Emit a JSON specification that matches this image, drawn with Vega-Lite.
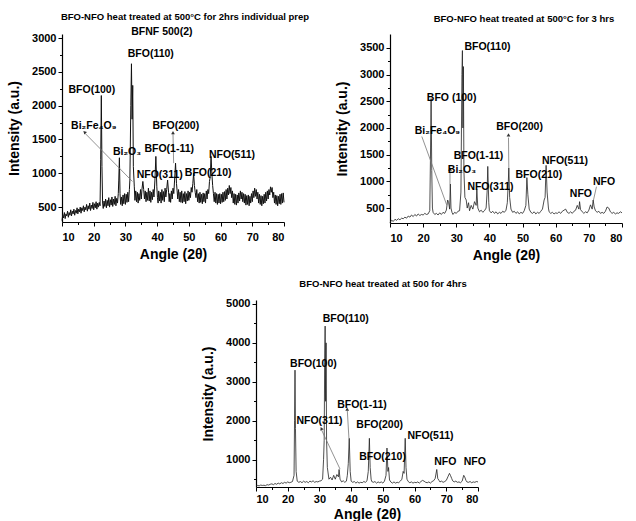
{
  "$schema": "https://vega.github.io/schema/vega-lite/v6.json",
  "background": "white",
  "padding": {"left": 7, "top": 11, "right": 0, "bottom": 0},
  "config": {
    "view": {"stroke": null},
    "font": "Liberation Sans",
    "axis": {"grid": false, "domainColor": "#000", "domainWidth": 1.2, "tickColor": "#000", "tickWidth": 1, "labelFont": "Liberation Sans", "labelFontWeight": "bold", "labelFontSize": 11, "labelColor": "#000", "labelPadding": 2, "labelOverlap": false, "titleFont": "Liberation Sans", "titleFontWeight": "bold", "titleFontSize": 14, "titleColor": "#000", "format": "d"},
    "axisX": {"titlePadding": 5, "labelPadding": 5},
    "axisY": {"titlePadding": 10},
    "title": {"font": "Liberation Sans", "fontWeight": "bold", "fontSize": 9.5, "color": "#000", "anchor": "middle", "frame": "group"},
    "text": {"font": "Liberation Sans", "fontWeight": "bold", "fontSize": 10.5, "color": "#000"}
  },
  "datasets": {
    "p1": [
      {"a":10,"i":300},{"a":10.25,"i":390},{"a":10.5,"i":340},{"a":10.75,"i":420},{"a":11,"i":330},{"a":11.25,"i":400},{"a":11.5,"i":370},{"a":11.75,"i":440},{"a":12,"i":350},{"a":12.25,"i":420},{"a":12.5,"i":380},{"a":12.75,"i":460},{"a":13,"i":370},{"a":13.25,"i":440},{"a":13.5,"i":400},{"a":13.75,"i":470},{"a":14,"i":380},{"a":14.25,"i":450},{"a":14.5,"i":410},{"a":14.75,"i":490},{"a":15,"i":400},{"a":15.25,"i":470},{"a":15.5,"i":430},{"a":15.75,"i":500},{"a":16,"i":410},{"a":16.25,"i":490},{"a":16.5,"i":450},{"a":16.75,"i":520},{"a":17,"i":430},{"a":17.25,"i":500},{"a":17.5,"i":460},{"a":17.75,"i":540},{"a":18,"i":440},{"a":18.25,"i":520},{"a":18.5,"i":470},{"a":18.75,"i":560},{"a":19,"i":450},{"a":19.25,"i":530},{"a":19.5,"i":480},{"a":19.75,"i":570},{"a":20,"i":460},{"a":20.25,"i":550},{"a":20.5,"i":490},{"a":20.75,"i":580},{"a":21,"i":470},{"a":21.25,"i":560},{"a":21.5,"i":500},{"a":21.75,"i":570},{"a":22,"i":520},{"a":22.2,"i":1200},{"a":22.4,"i":2150},{"a":22.6,"i":1100},{"a":22.8,"i":560},{"a":23,"i":480},{"a":23.25,"i":590},{"a":23.5,"i":510},{"a":23.75,"i":620},{"a":24,"i":490},{"a":24.25,"i":600},{"a":24.5,"i":520},{"a":24.75,"i":640},{"a":25,"i":500},{"a":25.25,"i":610},{"a":25.5,"i":530},{"a":25.75,"i":650},{"a":26,"i":510},{"a":26.25,"i":620},{"a":26.5,"i":540},{"a":26.75,"i":660},{"a":27,"i":520},{"a":27.25,"i":630},{"a":27.5,"i":560},{"a":27.75,"i":700},{"a":27.9,"i":900},{"a":28.1,"i":1230},{"a":28.3,"i":700},{"a":28.5,"i":540},{"a":28.75,"i":650},{"a":29,"i":520},{"a":29.25,"i":680},{"a":29.5,"i":550},{"a":29.75,"i":700},{"a":30,"i":540},{"a":30.25,"i":690},{"a":30.5,"i":570},{"a":30.75,"i":720},{"a":31,"i":580},{"a":31.25,"i":760},{"a":31.4,"i":900},{"a":31.7,"i":2000},{"a":31.9,"i":2620},{"a":32.1,"i":1800},{"a":32.3,"i":2300},{"a":32.5,"i":1100},{"a":32.8,"i":800},{"a":33,"i":600},{"a":33.25,"i":740},{"a":33.5,"i":580},{"a":33.75,"i":720},{"a":34,"i":560},{"a":34.25,"i":700},{"a":34.5,"i":600},{"a":34.75,"i":760},{"a":35,"i":620},{"a":35.25,"i":780},{"a":35.5,"i":880},{"a":35.75,"i":760},{"a":36,"i":620},{"a":36.25,"i":740},{"a":36.5,"i":580},{"a":36.75,"i":720},{"a":37,"i":600},{"a":37.25,"i":780},{"a":37.5,"i":590},{"a":37.75,"i":740},{"a":38,"i":570},{"a":38.25,"i":720},{"a":38.5,"i":610},{"a":38.75,"i":760},{"a":39,"i":650},{"a":39.3,"i":900},{"a":39.6,"i":1250},{"a":39.9,"i":800},{"a":40.1,"i":640},{"a":40.3,"i":560},{"a":40.5,"i":740},{"a":40.75,"i":590},{"a":41,"i":720},{"a":41.25,"i":560},{"a":41.5,"i":760},{"a":41.75,"i":600},{"a":42,"i":730},{"a":42.25,"i":580},{"a":42.5,"i":780},{"a":42.75,"i":650},{"a":43,"i":760},{"a":43.3,"i":900},{"a":43.6,"i":720},{"a":43.8,"i":580},{"a":44,"i":700},{"a":44.25,"i":570},{"a":44.5,"i":740},{"a":44.75,"i":620},{"a":45,"i":780},{"a":45.25,"i":700},{"a":45.5,"i":900},{"a":45.8,"i":1150},{"a":46.1,"i":850},{"a":46.3,"i":740},{"a":46.5,"i":620},{"a":46.75,"i":760},{"a":47,"i":580},{"a":47.25,"i":720},{"a":47.5,"i":570},{"a":47.75,"i":740},{"a":48,"i":560},{"a":48.25,"i":700},{"a":48.5,"i":580},{"a":48.75,"i":730},{"a":49,"i":550},{"a":49.25,"i":700},{"a":49.5,"i":590},{"a":49.75,"i":740},{"a":50,"i":600},{"a":50.25,"i":720},{"a":50.5,"i":640},{"a":50.75,"i":790},{"a":51,"i":720},{"a":51.25,"i":850},{"a":51.5,"i":1000},{"a":51.75,"i":820},{"a":52,"i":720},{"a":52.25,"i":640},{"a":52.5,"i":760},{"a":52.75,"i":580},{"a":53,"i":700},{"a":53.25,"i":560},{"a":53.5,"i":720},{"a":53.75,"i":570},{"a":54,"i":690},{"a":54.25,"i":550},{"a":54.5,"i":710},{"a":54.75,"i":580},{"a":55,"i":700},{"a":55.25,"i":560},{"a":55.5,"i":740},{"a":55.75,"i":620},{"a":56,"i":760},{"a":56.25,"i":700},{"a":56.5,"i":880},{"a":56.75,"i":950},{"a":57,"i":1250},{"a":57.25,"i":1000},{"a":57.5,"i":820},{"a":57.75,"i":700},{"a":58,"i":580},{"a":58.25,"i":720},{"a":58.5,"i":560},{"a":58.75,"i":700},{"a":59,"i":540},{"a":59.25,"i":690},{"a":59.5,"i":560},{"a":59.75,"i":700},{"a":60,"i":550},{"a":60.25,"i":690},{"a":60.5,"i":570},{"a":60.75,"i":720},{"a":61,"i":580},{"a":61.25,"i":730},{"a":61.5,"i":600},{"a":61.75,"i":760},{"a":62,"i":620},{"a":62.25,"i":780},{"a":62.5,"i":680},{"a":62.75,"i":820},{"a":63,"i":700},{"a":63.25,"i":790},{"a":63.5,"i":640},{"a":63.75,"i":740},{"a":64,"i":560},{"a":64.25,"i":700},{"a":64.5,"i":540},{"a":64.75,"i":690},{"a":65,"i":530},{"a":65.25,"i":680},{"a":65.5,"i":560},{"a":65.75,"i":710},{"a":66,"i":590},{"a":66.25,"i":740},{"a":66.5,"i":620},{"a":66.75,"i":720},{"a":67,"i":580},{"a":67.25,"i":700},{"a":67.5,"i":560},{"a":67.75,"i":690},{"a":68,"i":530},{"a":68.25,"i":670},{"a":68.5,"i":540},{"a":68.75,"i":680},{"a":69,"i":520},{"a":69.25,"i":660},{"a":69.5,"i":560},{"a":69.75,"i":700},{"a":70,"i":580},{"a":70.25,"i":740},{"a":70.5,"i":640},{"a":70.75,"i":780},{"a":71,"i":660},{"a":71.25,"i":760},{"a":71.5,"i":620},{"a":71.75,"i":720},{"a":72,"i":560},{"a":72.25,"i":690},{"a":72.5,"i":540},{"a":72.75,"i":670},{"a":73,"i":520},{"a":73.25,"i":660},{"a":73.5,"i":550},{"a":73.75,"i":690},{"a":74,"i":560},{"a":74.25,"i":720},{"a":74.5,"i":590},{"a":74.75,"i":740},{"a":75,"i":620},{"a":75.25,"i":760},{"a":75.5,"i":680},{"a":75.75,"i":800},{"a":76,"i":720},{"a":76.25,"i":790},{"a":76.5,"i":640},{"a":76.75,"i":720},{"a":77,"i":560},{"a":77.25,"i":680},{"a":77.5,"i":540},{"a":77.75,"i":670},{"a":78,"i":520},{"a":78.25,"i":660},{"a":78.5,"i":550},{"a":78.75,"i":690},{"a":79,"i":540},{"a":79.25,"i":700},{"a":79.5,"i":560},{"a":79.75,"i":710},{"a":80,"i":570}
    ],
    "p2": [
      {"a":10,"i":230},{"a":10.5,"i":270},{"a":11,"i":250},{"a":11.5,"i":290},{"a":12,"i":270},{"a":12.5,"i":300},{"a":13,"i":280},{"a":13.5,"i":310},{"a":14,"i":300},{"a":14.5,"i":330},{"a":15,"i":310},{"a":15.5,"i":350},{"a":16,"i":330},{"a":16.5,"i":370},{"a":17,"i":340},{"a":17.5,"i":380},{"a":18,"i":350},{"a":18.5,"i":390},{"a":19,"i":360},{"a":19.5,"i":380},{"a":20,"i":370},{"a":20.5,"i":400},{"a":21,"i":380},{"a":21.5,"i":390},{"a":22,"i":450},{"a":22.2,"i":1400},{"a":22.4,"i":2550},{"a":22.6,"i":1200},{"a":22.8,"i":500},{"a":23,"i":420},{"a":23.5,"i":380},{"a":24,"i":400},{"a":24.5,"i":370},{"a":25,"i":410},{"a":25.5,"i":380},{"a":26,"i":420},{"a":26.5,"i":400},{"a":27,"i":460},{"a":27.4,"i":650},{"a":27.7,"i":600},{"a":28,"i":480},{"a":28.2,"i":950},{"a":28.4,"i":500},{"a":28.7,"i":420},{"a":29,"i":380},{"a":29.5,"i":420},{"a":30,"i":400},{"a":30.5,"i":440},{"a":31,"i":450},{"a":31.4,"i":800},{"a":31.7,"i":3000},{"a":31.85,"i":3450},{"a":32.0,"i":2000},{"a":32.15,"i":3150},{"a":32.3,"i":1200},{"a":32.6,"i":700},{"a":33,"i":650},{"a":33.3,"i":500},{"a":33.7,"i":600},{"a":34,"i":450},{"a":34.5,"i":550},{"a":35,"i":480},{"a":35.5,"i":620},{"a":36,"i":550},{"a":36.2,"i":850},{"a":36.5,"i":500},{"a":37,"i":430},{"a":37.5,"i":460},{"a":38,"i":420},{"a":38.5,"i":450},{"a":39,"i":500},{"a":39.3,"i":800},{"a":39.5,"i":1280},{"a":39.8,"i":600},{"a":40,"i":450},{"a":40.5,"i":410},{"a":41,"i":440},{"a":41.5,"i":400},{"a":42,"i":430},{"a":42.5,"i":390},{"a":43,"i":420},{"a":43.5,"i":400},{"a":44,"i":440},{"a":44.5,"i":420},{"a":45,"i":460},{"a":45.4,"i":600},{"a":45.7,"i":1000},{"a":45.85,"i":1250},{"a":46.1,"i":700},{"a":46.5,"i":480},{"a":47,"i":420},{"a":47.5,"i":440},{"a":48,"i":400},{"a":48.5,"i":430},{"a":49,"i":390},{"a":49.5,"i":420},{"a":50,"i":400},{"a":50.5,"i":450},{"a":51,"i":550},{"a":51.3,"i":1070},{"a":51.6,"i":750},{"a":52,"i":480},{"a":52.5,"i":420},{"a":53,"i":400},{"a":53.5,"i":430},{"a":54,"i":390},{"a":54.5,"i":420},{"a":55,"i":400},{"a":55.5,"i":440},{"a":56,"i":480},{"a":56.5,"i":650},{"a":56.8,"i":700},{"a":57.1,"i":1300},{"a":57.4,"i":800},{"a":57.8,"i":500},{"a":58,"i":430},{"a":58.5,"i":400},{"a":59,"i":420},{"a":59.5,"i":390},{"a":60,"i":410},{"a":60.5,"i":400},{"a":61,"i":430},{"a":61.5,"i":400},{"a":62,"i":440},{"a":62.5,"i":460},{"a":63,"i":480},{"a":63.5,"i":420},{"a":64,"i":400},{"a":64.5,"i":430},{"a":65,"i":400},{"a":65.5,"i":440},{"a":66,"i":460},{"a":66.5,"i":550},{"a":67,"i":480},{"a":67.2,"i":620},{"a":67.5,"i":470},{"a":68,"i":430},{"a":68.5,"i":400},{"a":69,"i":430},{"a":69.5,"i":410},{"a":70,"i":460},{"a":70.5,"i":560},{"a":71,"i":480},{"a":71.3,"i":650},{"a":71.6,"i":520},{"a":72,"i":450},{"a":72.5,"i":420},{"a":73,"i":440},{"a":73.5,"i":400},{"a":74,"i":420},{"a":74.5,"i":400},{"a":75,"i":440},{"a":75.5,"i":520},{"a":76,"i":500},{"a":76.5,"i":430},{"a":77,"i":400},{"a":77.5,"i":420},{"a":78,"i":390},{"a":78.5,"i":410},{"a":79,"i":400},{"a":79.5,"i":430},{"a":80,"i":410}
    ],
    "p3": [
      {"a":10,"i":330},{"a":10.5,"i":340},{"a":11,"i":330},{"a":11.5,"i":350},{"a":12,"i":340},{"a":12.5,"i":345},{"a":13,"i":335},{"a":13.5,"i":360},{"a":14,"i":350},{"a":14.5,"i":370},{"a":15,"i":380},{"a":15.5,"i":360},{"a":16,"i":390},{"a":16.5,"i":370},{"a":17,"i":400},{"a":17.5,"i":380},{"a":18,"i":410},{"a":18.5,"i":390},{"a":19,"i":420},{"a":19.5,"i":400},{"a":20,"i":430},{"a":20.5,"i":410},{"a":21,"i":420},{"a":21.5,"i":440},{"a":22,"i":600},{"a":22.15,"i":2000},{"a":22.3,"i":3300},{"a":22.45,"i":1800},{"a":22.65,"i":700},{"a":23,"i":450},{"a":23.5,"i":420},{"a":24,"i":440},{"a":24.5,"i":410},{"a":25,"i":450},{"a":25.5,"i":420},{"a":26,"i":440},{"a":26.5,"i":410},{"a":27,"i":450},{"a":27.5,"i":430},{"a":28,"i":460},{"a":28.5,"i":420},{"a":29,"i":440},{"a":29.5,"i":430},{"a":30,"i":450},{"a":30.5,"i":460},{"a":31,"i":500},{"a":31.3,"i":1000},{"a":31.5,"i":1500},{"a":31.65,"i":3500},{"a":31.8,"i":4430},{"a":31.95,"i":2500},{"a":32.1,"i":4000},{"a":32.25,"i":1500},{"a":32.5,"i":800},{"a":33,"i":500},{"a":33.5,"i":550},{"a":34,"i":480},{"a":34.5,"i":600},{"a":35,"i":500},{"a":35.5,"i":620},{"a":36,"i":560},{"a":36.2,"i":750},{"a":36.5,"i":500},{"a":37,"i":430},{"a":37.5,"i":460},{"a":38,"i":420},{"a":38.5,"i":450},{"a":38.8,"i":600},{"a":39.1,"i":900},{"a":39.4,"i":1550},{"a":39.7,"i":700},{"a":40,"i":450},{"a":40.5,"i":420},{"a":41,"i":440},{"a":41.5,"i":400},{"a":42,"i":430},{"a":42.5,"i":400},{"a":43,"i":420},{"a":43.5,"i":410},{"a":44,"i":440},{"a":44.5,"i":420},{"a":45,"i":460},{"a":45.4,"i":700},{"a":45.75,"i":1550},{"a":46.0,"i":800},{"a":46.3,"i":500},{"a":46.5,"i":440},{"a":47,"i":420},{"a":47.5,"i":440},{"a":48,"i":400},{"a":48.5,"i":430},{"a":49,"i":410},{"a":49.5,"i":430},{"a":50,"i":400},{"a":50.5,"i":450},{"a":51,"i":600},{"a":51.3,"i":1300},{"a":51.6,"i":700},{"a":51.8,"i":800},{"a":52.1,"i":480},{"a":52.5,"i":430},{"a":53,"i":400},{"a":53.5,"i":430},{"a":54,"i":400},{"a":54.5,"i":420},{"a":55,"i":410},{"a":55.5,"i":450},{"a":56,"i":500},{"a":56.4,"i":700},{"a":56.7,"i":650},{"a":57.05,"i":1550},{"a":57.3,"i":800},{"a":57.6,"i":500},{"a":58,"i":440},{"a":58.5,"i":410},{"a":59,"i":430},{"a":59.5,"i":400},{"a":60,"i":420},{"a":60.5,"i":410},{"a":61,"i":430},{"a":61.5,"i":400},{"a":62,"i":440},{"a":62.5,"i":470},{"a":63,"i":450},{"a":63.5,"i":420},{"a":64,"i":410},{"a":64.5,"i":430},{"a":65,"i":400},{"a":65.5,"i":440},{"a":66,"i":460},{"a":66.5,"i":520},{"a":67,"i":750},{"a":67.3,"i":520},{"a":67.7,"i":470},{"a":68,"i":430},{"a":68.5,"i":450},{"a":69,"i":420},{"a":69.5,"i":440},{"a":70,"i":470},{"a":70.5,"i":560},{"a":71,"i":650},{"a":71.3,"i":600},{"a":71.7,"i":520},{"a":72,"i":460},{"a":72.5,"i":430},{"a":73,"i":450},{"a":73.5,"i":420},{"a":74,"i":430},{"a":74.5,"i":410},{"a":75,"i":450},{"a":75.5,"i":600},{"a":75.8,"i":560},{"a":76.2,"i":470},{"a":76.5,"i":430},{"a":77,"i":420},{"a":77.5,"i":440},{"a":78,"i":410},{"a":78.5,"i":430},{"a":79,"i":420},{"a":79.5,"i":440},{"a":80,"i":430}
    ],
    "t1": [
      {"a":38,"i":2760,"t":"BFO(110)"},
      {"a":19.4,"i":2235,"t":"BFO(100)"},
      {"a":20,"i":1700,"t":"Bi₂Fe₄O₉"},
      {"a":30.5,"i":1310,"t":"Bi₂O₃"},
      {"a":45.9,"i":1700,"t":"BFO(200)"},
      {"a":43.8,"i":1360,"t":"BFO(1-11)"},
      {"a":40.8,"i":970,"t":"NFO(311)"},
      {"a":56.1,"i":1010,"t":"BFO(210)"},
      {"a":63.6,"i":1265,"t":"NFO(511)"},
      {"a":41.5,"i":3085,"t":"BFNF 500(2)"}
    ],
    "r1": [
      {"a":17.3,"i":1590,"a2":32.2,"i2":880},
      {"a":45.0,"i":1580,"a2":45.2,"i2":1150}
    ],
    "h1a": [{"a":17.1,"i":1610}],
    "h1b": [{"a":45.0,"i":1600}],
    "t2": [
      {"a":39.4,"i":3510,"t":"BFO(110)"},
      {"a":28.6,"i":2560,"t":"BFO (100)"},
      {"a":24.3,"i":1940,"t":"Bi₂Fe₄O₉"},
      {"a":31.7,"i":1220,"t":"Bi₂O₃"},
      {"a":36.7,"i":1470,"t":"BFO(1-11)"},
      {"a":40.3,"i":900,"t":"NFO(311)"},
      {"a":49.1,"i":2020,"t":"BFO(200)"},
      {"a":54.9,"i":1110,"t":"BFO(210)"},
      {"a":62.8,"i":1390,"t":"NFO(511)"},
      {"a":67.6,"i":770,"t":"NFO"},
      {"a":74.6,"i":990,"t":"NFO"}
    ],
    "r2": [
      {"a":19.6,"i":1840,"a2":27.1,"i2":560},
      {"a":28.1,"i":1180,"a2":28.1,"i2":950},
      {"a":45.75,"i":1820,"a2":45.85,"i2":1250},
      {"a":72.3,"i":900,"a2":71.4,"i2":650}
    ],
    "h2": [{"a":28.1,"i":1230},{"a":45.75,"i":1870}],
    "t3": [
      {"a":38.3,"i":4600,"t":"BFO(110)"},
      {"a":28.1,"i":3450,"t":"BFO(100)"},
      {"a":43.4,"i":2400,"t":"BFO(1-11)"},
      {"a":30,"i":2000,"t":"NFO(311)"},
      {"a":49,"i":1900,"t":"BFO(200)"},
      {"a":49.9,"i":1080,"t":"BFO(210)"},
      {"a":65,"i":1620,"t":"NFO(511)"},
      {"a":69.7,"i":930,"t":"NFO"},
      {"a":79,"i":930,"t":"NFO"}
    ],
    "r3": [
      {"a":38.8,"i":2250,"a2":39.3,"i2":1550},
      {"a":30.7,"i":1760,"a2":36.5,"i2":760}
    ],
    "h3a": [{"a":38.75,"i":2300}],
    "h3b": [{"a":30.6,"i":1800}]
  },
  "spacing": 17,
  "vconcat": [
    {
      "spacing": 25,
      "hconcat": [
        {
          "width": 222, "height": 188,
          "title": {"text": "BFO-NFO heat treated at 500°C for 2hrs individual prep", "dx": 12, "offset": 6},
          "encoding": {
            "x": {"field": "a", "type": "quantitative", "scale": {"domain": [10, 80], "nice": false, "zero": false},
              "axis": {"title": "Angle (2θ)", "values": [10,15,20,25,30,35,40,45,50,55,60,65,70,75,80], "labelExpr": "datum.value % 10 === 0 ? datum.label : ''", "tickSize": {"condition": {"test": "datum.value % 10 === 0", "value": 4}, "value": 2.5}}},
            "y": {"field": "i", "type": "quantitative", "scale": {"domain": [280, 3060], "nice": false, "zero": false},
              "axis": {"title": "Intensity (a.u.)", "values": [500,750,1000,1250,1500,1750,2000,2250,2500,2750,3000], "labelExpr": "datum.value % 500 === 0 ? datum.label : ''", "tickSize": {"condition": {"test": "datum.value % 500 === 0", "value": 4}, "value": 2.5}}}
          },
          "layer": [
            {"data": {"name": "p1"}, "mark": {"type": "line", "color": "#111", "strokeWidth": 1}},
            {"data": {"name": "r1"}, "mark": {"type": "rule", "color": "#777", "strokeWidth": 0.8}, "encoding": {"x2": {"field": "a2"}, "y2": {"field": "i2"}}},
            {"data": {"name": "h1a"}, "mark": {"type": "point", "shape": "triangle-up", "filled": true, "color": "#333", "size": 14, "angle": 315, "opacity": 1}},
            {"data": {"name": "h1b"}, "mark": {"type": "point", "shape": "triangle-up", "filled": true, "color": "#333", "size": 14, "opacity": 1}},
            {"data": {"name": "t1"}, "mark": {"type": "text"}, "encoding": {"text": {"field": "t"}}}
          ]
        },
        {
          "width": 232, "height": 189,
          "title": {"text": "BFO-NFO heat treated at 500°C for 3 hrs", "dx": 18, "offset": 11},
          "encoding": {
            "x": {"field": "a", "type": "quantitative", "scale": {"domain": [10, 80], "nice": false, "zero": false},
              "axis": {"title": "Angle (2θ)", "values": [10,15,20,25,30,35,40,45,50,55,60,65,70,75,80], "labelExpr": "datum.value % 10 === 0 ? datum.label : ''", "tickSize": {"condition": {"test": "datum.value % 10 === 0", "value": 4}, "value": 2.5}}},
            "y": {"field": "i", "type": "quantitative", "scale": {"domain": [220, 3760], "nice": false, "zero": false},
              "axis": {"title": "Intensity (a.u.)", "values": [500,750,1000,1250,1500,1750,2000,2250,2500,2750,3000,3250,3500], "labelExpr": "datum.value % 500 === 0 ? datum.label : ''", "tickSize": {"condition": {"test": "datum.value % 500 === 0", "value": 4}, "value": 2.5}}}
          },
          "layer": [
            {"data": {"name": "p2"}, "mark": {"type": "line", "color": "#222", "strokeWidth": 0.8}},
            {"data": {"name": "r2"}, "mark": {"type": "rule", "color": "#777", "strokeWidth": 0.8}, "encoding": {"x2": {"field": "a2"}, "y2": {"field": "i2"}}},
            {"data": {"name": "h2"}, "mark": {"type": "point", "shape": "triangle-up", "filled": true, "color": "#333", "size": 14, "opacity": 1}},
            {"data": {"name": "t2"}, "mark": {"type": "text"}, "encoding": {"text": {"field": "t"}}}
          ]
        }
      ]
    },
    {
      "spacing": 20,
      "hconcat": [
        {"width": 119, "height": 187, "data": {"values": [{}]}, "mark": {"type": "point", "opacity": 0}},
        {
          "width": 222, "height": 187,
          "title": {"text": "BFO-NFO heat treated at 500 for 4hrs", "dx": 16, "offset": 9},
          "encoding": {
            "x": {"field": "a", "type": "quantitative", "scale": {"domain": [10, 80], "nice": false, "zero": false},
              "axis": {"title": "Angle (2θ)", "labelPadding": 2, "titlePadding": 3, "values": [10,15,20,25,30,35,40,45,50,55,60,65,70,75,80], "labelExpr": "datum.value % 10 === 0 ? datum.label : ''", "tickSize": {"condition": {"test": "datum.value % 10 === 0", "value": 4}, "value": 2.5}}},
            "y": {"field": "i", "type": "quantitative", "scale": {"domain": [300, 5100], "nice": false, "zero": false},
              "axis": {"title": "Intensity (a.u.)", "values": [500,1000,1500,2000,2500,3000,3500,4000,4500,5000], "labelExpr": "datum.value % 1000 === 0 ? datum.label : ''", "tickSize": {"condition": {"test": "datum.value % 1000 === 0", "value": 4}, "value": 2.5}}}
          },
          "layer": [
            {"data": {"name": "p3"}, "mark": {"type": "line", "color": "#222", "strokeWidth": 0.8}},
            {"data": {"name": "r3"}, "mark": {"type": "rule", "color": "#777", "strokeWidth": 0.8}, "encoding": {"x2": {"field": "a2"}, "y2": {"field": "i2"}}},
            {"data": {"name": "h3a"}, "mark": {"type": "point", "shape": "triangle-up", "filled": true, "color": "#333", "size": 14, "opacity": 1}},
            {"data": {"name": "h3b"}, "mark": {"type": "point", "shape": "triangle-up", "filled": true, "color": "#333", "size": 14, "angle": 335, "opacity": 1}},
            {"data": {"name": "t3"}, "mark": {"type": "text"}, "encoding": {"text": {"field": "t"}}}
          ]
        }
      ]
    }
  ]
}
